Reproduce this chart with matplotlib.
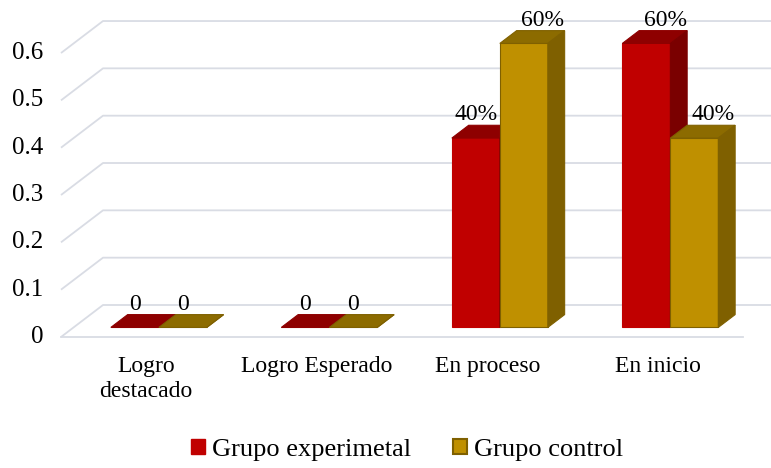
import matplotlib.pyplot as plt
from matplotlib.patches import Polygon, Patch

categorias = ['Logro\ndestacado', 'Logro Esperado', 'En proceso', 'En inicio']
experimental = [0, 0, 0.4, 0.6]
control = [0, 0, 0.6, 0.4]
etq_exp = ['0', '0', '40%', '60%']
etq_ctl = ['0', '0', '60%', '40%']
yticks = [0, 0.1, 0.2, 0.3, 0.4, 0.5, 0.6]

plt.rcParams['font.family'] = ['Liberation Serif', 'DejaVu Serif']

fig = plt.figure(figsize=(7.71, 4.68), dpi=100)
ax = fig.add_axes([61 / 771, 131 / 468, 710 / 771, 332 / 468])
ax.set_xlim(-0.5, -0.5 + 710 / 170.5)
ax.set_ylim(0, 332 / 473.3)
ax.axis('off')

# profundidad 3D (en unidades de datos)
ddx = 42 / 170.5
ddy = 32 / 473.3
f1, f2 = 0.3, 0.7
w = 0.2815
grid_c = '#D9DCE4'

x0 = -0.5
xend = ax.get_xlim()[1]
for v in yticks:
    ax.plot([x0, x0 + ddx, xend], [v, v + ddy, v + ddy], color=grid_c, lw=1.3,
            clip_on=False, zorder=1, solid_capstyle='butt')
    ax.text(x0 - 0.105, v, str(v) if v else '0', ha='right', va='center', fontsize=18)
ax.plot([x0, 3.5], [0, 0], color=grid_c, lw=1.3, clip_on=False, zorder=1)

for i, c in enumerate(categorias):
    ax.text(i, -0.041, c, ha='center', va='top', fontsize=17, linespacing=1.2)

colores = [('#C00000', '#8E0000', '#7A0000', '#C00000'),
           ('#BF9000', '#8C6B00', '#7F6000', '#7F6000')]
series = [experimental, control]
etiquetas = [etq_exp, etq_ctl]
bx = f1 * ddx
by = f1 * ddy
dx = (f2 - f1) * ddx
dy = (f2 - f1) * ddy

z = 3
for i in range(len(categorias)):
    for s in range(2):
        v = series[s][i]
        front, top, side, edge = colores[s]
        left = i + bx - w + s * w
        ax.bar(left, v, width=w, bottom=by, align='edge', color=front,
               edgecolor=edge, linewidth=0.8, zorder=z)
        b0 = by + v
        ax.add_patch(Polygon([(left, b0), (left + w, b0), (left + w + dx, b0 + dy),
                              (left + dx, b0 + dy)], closed=True, facecolor=top,
                             edgecolor=edge if s else top, lw=0.8, zorder=z))
        ax.add_patch(Polygon([(left + w, by), (left + w + dx, by + dy),
                              (left + w + dx, b0 + dy), (left + w, b0)], closed=True,
                             facecolor=side, edgecolor=edge if s else side, lw=0.8, zorder=z))
        z += 1
        # posicion de la etiqueta
        lx = left + w / 2
        otro = series[1][i] if s == 0 else None
        if v > 0 and not (otro is not None and otro > v):
            lx += 19 / 170.5
        ax.text(lx, b0 + dy, etiquetas[s][i], ha='center', va='bottom', fontsize=17, zorder=20)

handles = [Patch(facecolor='#C00000', edgecolor='#C00000', label='Grupo experimetal'),
           Patch(facecolor='#BF9000', edgecolor='#7F6000', lw=1.5, label='Grupo control')]
fig.legend(handles=handles, loc='center', bbox_to_anchor=(407 / 771, 1 - 450 / 468), ncol=2,
           frameon=False, fontsize=19, handlelength=0.53, handleheight=0.53,
           handletextpad=0.25, columnspacing=1.6, borderpad=0.2)

plt.savefig('out.png', dpi=100)
